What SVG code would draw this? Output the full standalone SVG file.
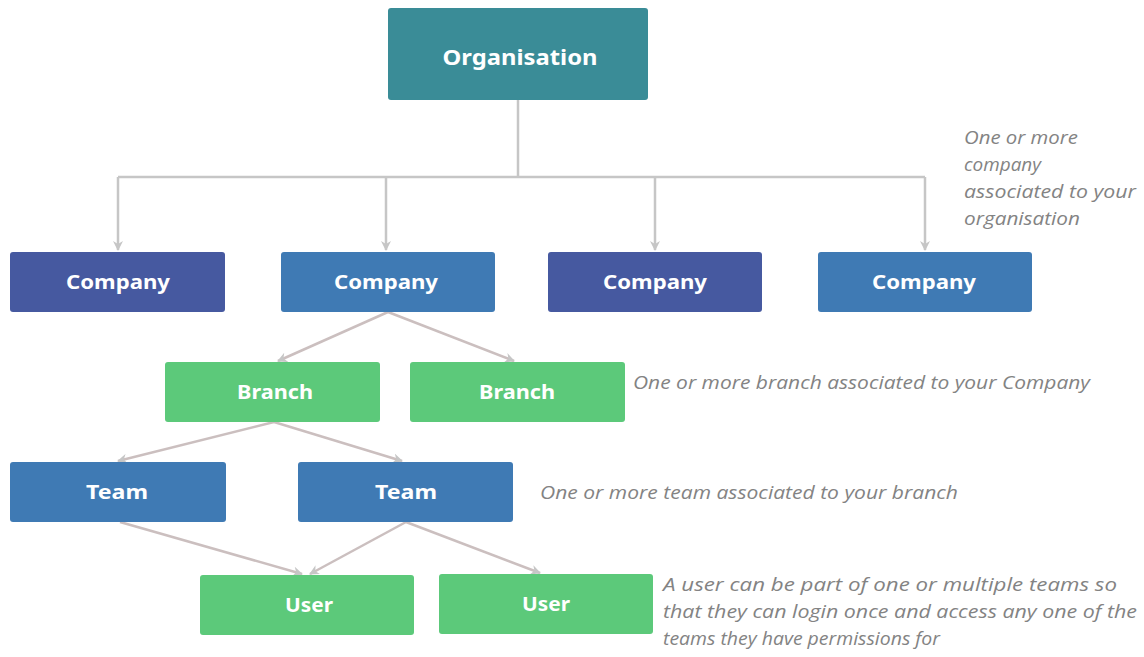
<svg xmlns="http://www.w3.org/2000/svg" width="1144" height="657" viewBox="0 0 1144 657">
<style>
.node rect{rx:3}
.lbl{font-family:"Noto Sans","Open Sans",sans-serif;font-weight:700;fill:#fff;text-anchor:middle;dominant-baseline:central}
.note{font-family:"Open Sans","Liberation Sans",sans-serif;font-style:italic;fill:#838383;font-size:19px}
.conn{fill:none;stroke:#c6c6c6;stroke-width:2.5}
.diag{stroke:#cbbfbf}
</style>
<defs>
<marker id="arr" viewBox="0 0 10 10" refX="9" refY="5" markerWidth="4" markerHeight="4" orient="auto" markerUnits="strokeWidth">
<path d="M0,0 L10,5 L0,10 L3,5 Z" fill="#c6c6c6"/>
</marker>
</defs>
<rect width="1144" height="657" fill="#fff"/>
<g id="connectors">
<path class="conn" d="M518,100 V177"/>
<path class="conn" d="M118,177 H925"/>
<path class="conn" d="M118,177 V250" marker-end="url(#arr)"/>
<path class="conn" d="M386,177 V250" marker-end="url(#arr)"/>
<path class="conn" d="M655,177 V250" marker-end="url(#arr)"/>
<path class="conn" d="M925,177 V250" marker-end="url(#arr)"/>
<path class="conn diag" d="M388,312 L278,361" marker-end="url(#arr)"/>
<path class="conn diag" d="M388,312 L514,361" marker-end="url(#arr)"/>
<path class="conn diag" d="M274,422 L118,461" marker-end="url(#arr)"/>
<path class="conn diag" d="M274,422 L402,461" marker-end="url(#arr)"/>
<path class="conn diag" d="M120,522 L302,574" marker-end="url(#arr)"/>
<path class="conn diag" d="M406,522 L310,574" marker-end="url(#arr)"/>
<path class="conn diag" d="M406,522 L540,573" marker-end="url(#arr)"/>
</g>
<g id="organisation" class="node"><rect x="388" y="8" width="260" height="92" fill="#3a8c97"/><text class="lbl" x="520" y="56" font-size="22" textLength="155" lengthAdjust="spacingAndGlyphs">Organisation</text></g>
<g id="company1" class="node"><rect x="10" y="252" width="215" height="60" fill="#4659a0"/><text class="lbl" x="118" y="282" font-size="19" textLength="104" lengthAdjust="spacingAndGlyphs">Company</text></g>
<g id="company2" class="node"><rect x="281" y="252" width="214" height="60" fill="#3f7ab4"/><text class="lbl" x="386" y="282" font-size="19" textLength="104" lengthAdjust="spacingAndGlyphs">Company</text></g>
<g id="company3" class="node"><rect x="548" y="252" width="214" height="60" fill="#4659a0"/><text class="lbl" x="655" y="282" font-size="19" textLength="104" lengthAdjust="spacingAndGlyphs">Company</text></g>
<g id="company4" class="node"><rect x="818" y="252" width="214" height="60" fill="#3f7ab4"/><text class="lbl" x="924" y="282" font-size="19" textLength="104" lengthAdjust="spacingAndGlyphs">Company</text></g>
<g id="branch1" class="node"><rect x="165" y="362" width="215" height="60" fill="#5cc97a"/><text class="lbl" x="275" y="392" font-size="19" textLength="76" lengthAdjust="spacingAndGlyphs">Branch</text></g>
<g id="branch2" class="node"><rect x="410" y="362" width="215" height="60" fill="#5cc97a"/><text class="lbl" x="517" y="392" font-size="19" textLength="76" lengthAdjust="spacingAndGlyphs">Branch</text></g>
<g id="team1" class="node"><rect x="10" y="462" width="216" height="60" fill="#3f7ab4"/><text class="lbl" x="117" y="492" font-size="19" textLength="62" lengthAdjust="spacingAndGlyphs">Team</text></g>
<g id="team2" class="node"><rect x="298" y="462" width="215" height="60" fill="#3f7ab4"/><text class="lbl" x="406" y="492" font-size="19" textLength="62" lengthAdjust="spacingAndGlyphs">Team</text></g>
<g id="user1" class="node"><rect x="200" y="575" width="214" height="60" fill="#5cc97a"/><text class="lbl" x="309" y="605" font-size="19" textLength="48" lengthAdjust="spacingAndGlyphs">User</text></g>
<g id="user2" class="node"><rect x="439" y="574" width="214" height="60" fill="#5cc97a"/><text class="lbl" x="546" y="604" font-size="19" textLength="48" lengthAdjust="spacingAndGlyphs">User</text></g>
<g id="notes">
<text class="note" x="964" y="144" textLength="114" lengthAdjust="spacingAndGlyphs">One or more</text>
<text class="note" x="964" y="171" textLength="77" lengthAdjust="spacingAndGlyphs">company</text>
<text class="note" x="964" y="198" textLength="172" lengthAdjust="spacingAndGlyphs">associated to your</text>
<text class="note" x="964" y="225" textLength="116" lengthAdjust="spacingAndGlyphs">organisation</text>
<text class="note" x="633" y="389" textLength="457" lengthAdjust="spacingAndGlyphs">One or more branch associated to your Company</text>
<text class="note" x="540" y="499" textLength="418" lengthAdjust="spacingAndGlyphs">One or more team associated to your branch</text>
<text class="note" x="663" y="591" textLength="454" lengthAdjust="spacingAndGlyphs">A user can be part of one or multiple teams so</text>
<text class="note" x="663" y="618" textLength="474" lengthAdjust="spacingAndGlyphs">that they can login once and access any one of the</text>
<text class="note" x="663" y="645" textLength="277" lengthAdjust="spacingAndGlyphs">teams they have permissions for</text>
</g>
</svg>
